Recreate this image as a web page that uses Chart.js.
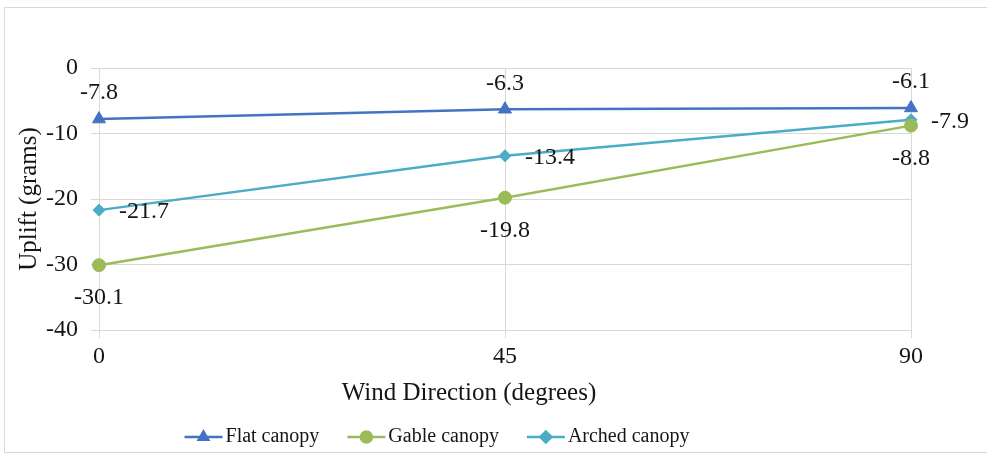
<!DOCTYPE html>
<html>
<head>
<meta charset="utf-8">
<script src="https://cdn.jsdelivr.net/npm/chart.js@4"></script>
<style>
  body { margin: 0; background: #fff; }
</style>
</head>
<body>
<canvas id="myChart" width="987" height="456"></canvas>
<script>
// wind direction categories and uplift values
const directions = ['0', '45', '90'];
const flatCanopy = [-7.8, -6.3, -6.1];
const gableCanopy = [-30.1, -19.8, -8.8];
const archedCanopy = [-21.7, -13.4, -7.9];
const seriesNames = ['Flat canopy', 'Gable canopy', 'Arched canopy'];
const seriesColors = ['#4472C4', '#9BBB59', '#4BACC6'];
const markerStyles = ['triangle', 'circle', 'rectRot'];
const markerSizes = [7.5, 6.5, 6];
const yTicks = [0, -10, -20, -30, -40];
const xTitle = 'Wind Direction (degrees)';

const serif = '"Liberation Serif", "Times New Roman", serif';
const textColor = '#151515';

// where the value text goes relative to each point
const labelPos = [
  {dx: 0, dy: -26, align: 'center'},
  {dx: 0, dy: 33, align: 'center'},
  {dx: 20, dy: 2, align: 'left'}
];

const valueLabels = {
  id: 'valueLabels',
  afterDatasetsDraw(chart) {
    const ctx = chart.ctx;
    ctx.save();
    ctx.font = '24px ' + serif;
    ctx.fillStyle = textColor;
    ctx.textBaseline = 'middle';
    chart.data.datasets.forEach((ds, i) => {
      const meta = chart.getDatasetMeta(i);
      const p = labelPos[i];
      ctx.textAlign = p.align;
      meta.data.forEach((pt, j) => {
        ctx.fillText(ds.data[j].toFixed(1), pt.x + p.dx, pt.y + p.dy);
      });
    });
    ctx.restore();
  }
};

// x title + excel style legend (both sit left of the plot centre in the original)
const lineLegend = {
  id: 'lineLegend',
  afterDraw(chart) {
    const ctx = chart.ctx;
    ctx.save();
    ctx.textBaseline = 'middle';
    ctx.fillStyle = textColor;
    ctx.textAlign = 'center';
    ctx.font = '25px ' + serif;
    ctx.fillText(xTitle, 469, 393);

    const y = 437, lineW = 38, gapText = 3, gapItem = 28;
    ctx.font = '20px ' + serif;
    const ds = chart.data.datasets;
    const widths = ds.map(d => lineW + gapText + ctx.measureText(d.label).width);
    const total = widths.reduce((a, b) => a + b, 0) + gapItem * (ds.length - 1);
    let x = 437 - total / 2;
    ds.forEach((d, i) => {
      ctx.strokeStyle = d.borderColor;
      ctx.fillStyle = d.backgroundColor;
      ctx.lineWidth = 2.5;
      ctx.beginPath(); ctx.moveTo(x, y); ctx.lineTo(x + lineW, y); ctx.stroke();
      Chart.helpers.drawPoint(ctx, {pointStyle: d.pointStyle, radius: 5.5, rotation: 0, borderWidth: 1}, x + lineW / 2, y);
      ctx.fill();
      ctx.fillStyle = textColor;
      ctx.textAlign = 'left';
      ctx.fillText(d.label, x + lineW + gapText, y);
      x += widths[i] + gapItem;
    });
    ctx.restore();
  }
};

const frame = {
  id: 'frame',
  beforeDraw(chart) {
    const ctx = chart.ctx;
    ctx.save();
    ctx.fillStyle = '#fff';
    ctx.fillRect(0, 0, chart.width, chart.height);
    ctx.strokeStyle = '#d9d9d9';
    ctx.lineWidth = 1;
    ctx.strokeRect(4.5, 7.5, 990, 445);
    ctx.restore();
  }
};

const allData = [flatCanopy, gableCanopy, archedCanopy];

const ctx = document.getElementById('myChart').getContext('2d');
const myChart = new Chart(ctx, {
  type: 'line',
  data: {
    labels: directions,
    datasets: allData.map((d, i) => ({
      label: seriesNames[i],
      data: d,
      borderColor: seriesColors[i],
      backgroundColor: seriesColors[i],
      borderWidth: 2.5,
      pointStyle: markerStyles[i],
      pointRadius: markerSizes[i],
      pointBorderWidth: 1,
      tension: 0
    }))
  },
  options: {
    responsive: false,
    animation: false,
    devicePixelRatio: 1,
    layout: { padding: { top: 68, left: 0, right: 76, bottom: 41 } },
    plugins: {
      tooltip: { enabled: false },
      legend: { display: false }
    },
    scales: {
      x: {
        offset: false,
        grid: { color: '#d9d9d9', lineWidth: 1 },
        border: { color: '#d9d9d9' },
        ticks: { color: textColor, padding: 4, font: { family: serif, size: 24 } },
        afterFit(s) { s.height = 85; }
      },
      y: {
        min: -40,
        max: 0,
        grid: { color: '#d9d9d9', lineWidth: 1 },
        border: { color: '#d9d9d9' },
        ticks: {
          color: textColor, padding: 13, stepSize: 10,
          font: { family: serif, size: 24 },
          callback: (v) => yTicks.includes(v) ? v : ''
        },
        title: { display: true, text: 'Uplift (grams)', color: textColor,
                 font: { family: serif, size: 25 }, padding: { top: 14, bottom: 0 } },
        afterFit(s) { s.width = 99; }
      }
    }
  },
  plugins: [frame, valueLabels, lineLegend]
});
</script>
</body>
</html>
